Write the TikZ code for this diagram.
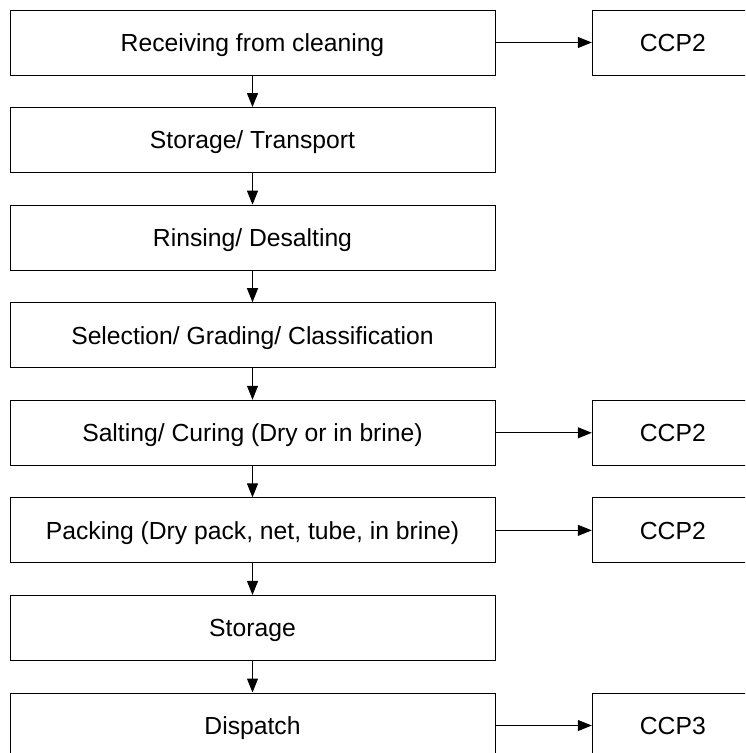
\documentclass[tikz,border=0pt]{standalone}
\usepackage{fontspec}
\setmainfont{Liberation Sans}
\usetikzlibrary{arrows.meta}
\begin{document}
\begin{tikzpicture}[x=1pt,y=1pt,
  basebox/.style={draw=black, line width=1pt, minimum height=65pt, inner sep=0pt, text height=20pt, text depth=2.3pt, font=\fontsize{24.7}{29}\selectfont},
  stepbox/.style={basebox, minimum width=485pt},
  ccpbox/.style={basebox, minimum width=161pt},
  flow/.style={draw=black, line width=1pt, -{Triangle[length=14pt,width=11pt]}}]
\useasboundingbox (0,0) rectangle (745,-753);
\clip (0,0) rectangle (745,-753);
\fill[white] (0,0) rectangle (745,-753);
\node[stepbox] (s1) at (252.5,-42.5) {Receiving from cleaning};
\node[stepbox] (s2) at (252.5,-140.07) {Storage/ Transport};
\node[stepbox] (s3) at (252.5,-237.64) {Rinsing/ Desalting};
\node[stepbox] (s4) at (252.5,-335.21) {Selection/ Grading/ Classification};
\node[stepbox] (s5) at (252.5,-432.79) {Salting/ Curing (Dry or in brine)};
\node[stepbox] (s6) at (252.5,-530.36) {Packing (Dry pack, net, tube, in brine)};
\node[stepbox] (s7) at (252.5,-627.93) {Storage};
\node[stepbox] (s8) at (252.5,-725.5) {Dispatch};
\node[ccpbox] (c1) at (672.8,-42.5) {CCP2};
\node[ccpbox] (c5) at (672.8,-432.79) {CCP2};
\node[ccpbox] (c6) at (672.8,-530.36) {CCP2};
\node[ccpbox] (c8) at (672.8,-725.5) {CCP3};
\foreach \a/\b in {s1/s2,s2/s3,s3/s4,s4/s5,s5/s6,s6/s7,s7/s8}
  \draw[flow] (\a.south) -- (\b.north);
\foreach \a/\b in {s1/c1,s5/c5,s6/c6,s8/c8}
  \draw[flow] (\a.east) -- (\b.west);
\end{tikzpicture}
\end{document}
